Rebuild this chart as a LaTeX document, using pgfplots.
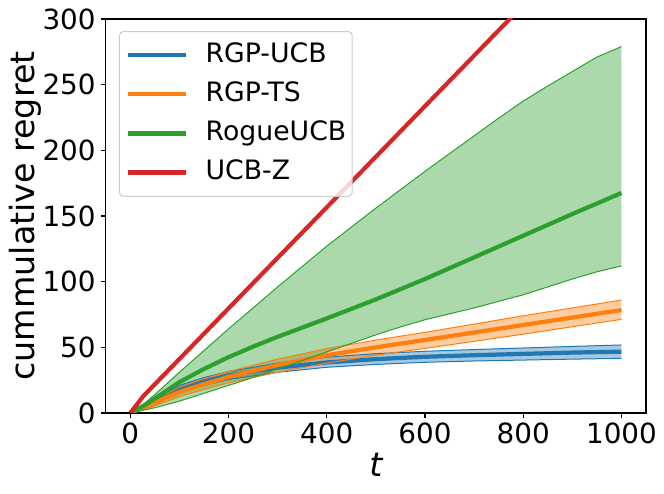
\documentclass[border=0pt]{standalone}
\usepackage{fontspec}
\setmainfont{DejaVu Sans}
\usepackage{pgfplots}
\pgfplotsset{compat=1.18}
\usepgfplotslibrary{fillbetween}
\definecolor{tblue}{HTML}{1F77B4}
\definecolor{torange}{HTML}{FF7F0E}
\definecolor{tgreen}{HTML}{2CA02C}
\definecolor{tred}{HTML}{D62728}
\begin{document}
\begin{tikzpicture}
\begin{axis}[
  at={(0pt,0pt)}, anchor=south west,
  scale only axis, width=540.3pt, height=394pt,
  xmin=-50, xmax=1050, ymin=0, ymax=300,
  xtick={0,200,400,600,800,1000}, ytick={0,50,100,150,200,250,300},
  scaled x ticks=false, scaled y ticks=false,
  tick pos=left, tick align=outside, major tick length=4.9pt,
  tick style={black, line width=1.1pt},
  axis line style={line width=1.1pt, black},
  /pgf/number format/assume math mode=true,
  /pgf/number format/1000 sep={},
  ticklabel style={font=\fontsize{27.8}{33}\selectfont, inner sep=0pt},
  xticklabel style={anchor=north, yshift=-5pt},
  yticklabel style={anchor=east, xshift=-5pt},
  xlabel={\itshape t}, ylabel={cummulative regret},
  label style={font=\fontsize{33.3}{40}\selectfont},
  xlabel style={at={(axis description cs:0.5,-0.1624)}, anchor=base, inner sep=0pt},
  ylabel style={at={(axis description cs:-0.1309,0.5)}, anchor=base, inner sep=0pt},
  legend cell align=left,
  legend image code/.code={\draw[#1, line width=4.2pt, overlay] (0pt,0pt) -- (58pt,0pt); \path (0pt,0pt) -- (58pt,0pt);},
  legend style={at={(rel axis cs:0.0246,0.9695)}, anchor=north west,
    draw=black!20, line width=1pt, rounded corners=4pt, fill=white, fill opacity=0.8, text opacity=1,
    font=\fontsize{26.7}{32}\selectfont,
    inner xsep=6pt, inner ysep=10pt, column sep=18pt, row sep=11.6pt,
    nodes={inner sep=0pt, text height=21pt, text depth=6.5pt}},
]
% RGP-UCB
\addplot[name path=bu, tblue, line width=1pt, forget plot] coordinates {(0,0)(25,6)(50,11.8)(100,21)(150,27)(200,31.5)(300,38)(400,42.5)(500,45.2)(600,47)(700,48.3)(800,49.5)(900,50.7)(1000,51.8)};
\addplot[name path=bl, tblue, line width=1pt, forget plot] coordinates {(0,0)(25,4)(50,8.2)(100,16)(150,21)(200,25.5)(300,31)(400,34.8)(500,37)(600,38.6)(700,39.6)(800,40.3)(900,41)(1000,41.6)};
\addplot[fill=tblue, fill opacity=0.4, draw=none, forget plot] fill between[of=bu and bl];
\addplot[tblue, line width=4.2pt] coordinates {(0,0)(25,5)(50,10)(100,18.5)(150,24)(200,28.5)(300,34.5)(400,38.5)(500,41)(600,42.8)(700,44)(800,45)(900,46)(1000,46.7)};
% RGP-TS
\addplot[name path=ou, torange, line width=1pt, forget plot] coordinates {(0,0)(25,5.5)(50,10.5)(100,19.5)(150,26)(200,31.5)(300,41)(400,49)(500,55.5)(600,61.4)(700,67.7)(800,74)(900,80)(1000,86)};
\addplot[name path=ol, torange, line width=1pt, forget plot] coordinates {(0,0)(25,2.5)(50,5.5)(100,12.5)(150,18)(200,23)(300,31)(400,38)(500,44)(600,49.2)(700,54.6)(800,60)(900,65.7)(1000,71.3)};
\addplot[fill=torange, fill opacity=0.4, draw=none, forget plot] fill between[of=ou and ol];
\addplot[torange, line width=4.2pt] coordinates {(0,0)(25,4)(50,8)(100,16)(150,22)(200,27.5)(300,36.5)(400,44)(500,50)(600,55.6)(700,61.3)(800,67)(900,72.7)(1000,78.4)};
% RogueUCB
\addplot[name path=gu, tgreen, line width=1pt, forget plot] coordinates {(0,0)(25,6)(50,14)(100,31)(150,47.5)(200,64)(250,80)(300,96)(350,111.5)(400,127)(450,141.5)(500,156)(550,170)(600,184)(650,197.5)(700,211)(750,224.5)(800,237.5)(850,249)(900,260)(950,271)(1000,279)};
\addplot[name path=gl, tgreen, line width=1pt, forget plot] coordinates {(0,0)(50,4)(100,9)(150,15)(200,21)(250,27)(300,33.5)(350,40)(400,46.5)(450,53)(500,59.5)(550,65.5)(600,71)(650,75.5)(700,80)(750,85)(800,90)(850,96)(900,102)(950,107.5)(1000,112)};
\addplot[fill=tgreen, fill opacity=0.4, draw=none, forget plot] fill between[of=gu and gl];
\addplot[tgreen, line width=4.2pt] coordinates {(0,0)(25,5)(50,11)(100,23.5)(150,33.5)(200,42.5)(250,50.5)(300,58)(350,65)(400,72)(500,86.5)(600,102)(700,118.5)(800,135)(900,151.5)(1000,167.5)};
% UCB-Z
\addplot[tred, line width=4.2pt] coordinates {(0,0)(27,13)(100,41.1)(200,79.6)(400,156.6)(600,233.6)(800,310.6)(1000,387.6)};
\legend{RGP-UCB, RGP-TS, RogueUCB, UCB-Z}
\end{axis}
\pgfresetboundingbox
\path[use as bounding box] (-105.7pt,-81pt) rectangle (558.3pt,413pt);
\end{tikzpicture}
\end{document}
